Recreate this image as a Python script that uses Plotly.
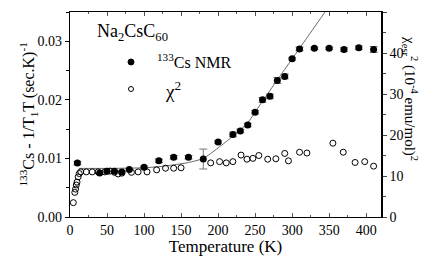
import plotly.graph_objects as go

# 133Cs NMR data (left axis)
nmr_T = [10, 40, 50, 60, 70, 80, 100, 120, 140, 160, 180, 200, 220, 230, 240,
         250, 260, 270, 280, 290, 300, 310, 330, 350, 370, 390, 410]
nmr_val = [0.0092, 0.0075, 0.0078, 0.0078, 0.0077, 0.0081, 0.0085, 0.0096, 0.0102,
           0.0102, 0.0099, 0.0128, 0.0141, 0.0147, 0.0157, 0.0179, 0.0200, 0.0206,
           0.0233, 0.0240, 0.0270, 0.0287, 0.0288, 0.0288, 0.0286, 0.0289, 0.0286]
nmr_err = [0.0003, 0, 0, 0, 0, 0.0002, 0.0002, 0.0003, 0.0003, 0.0003, 0.0017, 0.0002,
           0.0004, 0.0003, 0.0003, 0.0003, 0.0004, 0.0004, 0.0005, 0.0004, 0.0002,
           0.0003, 0.0002, 0.0002, 0.0003, 0.0003, 0.0005]

# fit curve
fit_T = [12, 50, 100, 120, 140, 160, 180, 200, 220, 240, 260, 280, 300, 320, 340, 360]
fit_val = [0.0083, 0.0083, 0.0084, 0.0086, 0.0089, 0.0093, 0.0100, 0.0118, 0.0138,
           0.0161, 0.0198, 0.0234, 0.0270, 0.0306, 0.0342, 0.0378]

# chi^2 data (right axis)
chi_T = [4.5, 6.5, 7.5, 8.5, 9.5, 11, 12.5, 14.5, 22, 30, 38, 47, 54, 60, 65, 70, 83,
         92, 104, 117, 129, 140, 150, 190, 202, 211, 220, 231, 239, 247, 255, 267,
         278, 290, 295, 310, 320, 355, 369, 385, 398, 410]
chi_val = [3.5, 6.0, 6.8, 7.8, 8.5, 9.8, 10.6, 11.0, 11.0, 11.0, 11.0, 11.0, 11.2, 10.9,
           10.5, 10.7, 10.9, 11.0, 11.0, 11.5, 11.9, 11.9, 12.0, 13.2, 13.5, 13.2, 13.5,
           15.1, 14.1, 14.3, 15.0, 14.1, 14.2, 15.5, 13.7, 15.8, 15.6, 18.0, 15.8, 13.3,
           13.5, 12.4]

x_ticks = [0, 50, 100, 150, 200, 250, 300, 350, 400]
y_ticks = [0.00, 0.01, 0.02, 0.03]
y_ticklabels = ["0.00", "0.01", "0.02", "0.03"]
y2_ticks = [0, 10, 20, 30, 40, 50]

FONT = "Liberation Serif"

# page body has an 8px margin; compensate so the plot area lands at 70..381 x 12..217
OFF = 8
W, H = 436 - OFF, 256 - OFF
L, R, T, B = 70 - OFF, 55, 12 - OFF, 39
PLEFT, PTOP = 70, 12
PW, PH = 311, 205


def px(x):
    return (x - PLEFT) / PW


def py(y):
    return (PTOP + PH - y) / PH


fig = go.Figure()
fig.add_trace(go.Scatter(x=fit_T, y=fit_val, mode="lines",
                         line=dict(color="#666666", width=1, shape="spline", smoothing=0.6),
                         showlegend=False))
fig.add_trace(go.Scatter(x=chi_T, y=chi_val, mode="markers", yaxis="y2",
                         marker=dict(symbol="circle-open", size=6, color="black",
                                     line=dict(width=1, color="black")),
                         showlegend=False))
fig.add_trace(go.Scatter(x=nmr_T, y=nmr_val, mode="markers",
                         marker=dict(symbol="circle", size=7, color="black"),
                         error_y=dict(type="data", array=nmr_err, color="#777777",
                                      thickness=1, width=4),
                         showlegend=False))

fig.update_layout(
    width=W, height=H,
    margin=dict(l=L, r=R, t=T, b=B, autoexpand=False),
    paper_bgcolor="white", plot_bgcolor="white",
    font=dict(family=FONT, size=14, color="black"),
    xaxis=dict(range=[0, 420], tickvals=x_ticks, ticks="inside", ticklen=4,
               tickcolor="#555", showline=True, linecolor="black", linewidth=1,
               mirror="ticks", showgrid=False, zeroline=False,
               minor=dict(dtick=25, tick0=0, ticks="inside", ticklen=2, tickcolor="#555"),
               title=dict(text="Temperature (K)", font=dict(size=17, family=FONT), standoff=2),
               tickfont=dict(size=14, family=FONT)),
    yaxis=dict(range=[0, 0.035], tickvals=y_ticks, ticktext=y_ticklabels,
               ticks="outside", ticklen=4, tickcolor="black",
               showline=True, linecolor="black", linewidth=1.2,
               showgrid=False, zeroline=False,
               minor=dict(dtick=0.005, tick0=0, ticks="outside", ticklen=3),
               tickfont=dict(size=14, family=FONT)),
    yaxis2=dict(range=[0, 50], tickvals=y2_ticks, overlaying="y", side="right",
                ticks="outside", ticklen=4, showline=True, linecolor="black",
                linewidth=1.5, showgrid=False, zeroline=False,
                minor=dict(dtick=5, tick0=0, ticks="outside", ticklen=3),
                tickfont=dict(size=14, family=FONT)),
)

ann = [
    dict(text="<sup>133</sup>Cs - 1/T<sub>1</sub>T (sec.K)<sup>-1</sup>",
         xref="paper", yref="paper", x=0, y=0.5, xshift=-55, textangle=-90,
         showarrow=False, font=dict(size=16, family=FONT)),
    dict(text="χ<sub>esr</sub><sup>2</sup> (10<sup>-4</sup> emu/mol)<sup>2</sup>",
         xref="paper", yref="paper", x=1, y=0.58, xshift=41, textangle=90,
         showarrow=False, font=dict(size=15, family=FONT)),
    dict(text="Na<sub>2</sub>CsC<sub>60</sub>", xref="paper", yref="paper",
         x=px(95), y=py(33), xanchor="left", yanchor="middle",
         showarrow=False, font=dict(size=18, family=FONT)),
    dict(text="<sup>133</sup>Cs NMR", xref="paper", yref="paper",
         x=px(155), y=py(61), xanchor="left", yanchor="middle",
         showarrow=False, font=dict(size=16, family=FONT)),
    dict(text="χ<sup>2</sup>", xref="paper", yref="paper",
         x=px(163), y=py(90), xanchor="left", yanchor="middle",
         showarrow=False, font=dict(size=19, family=FONT)),
]
fig.update_layout(annotations=ann)

# legend symbols
fig.add_shape(type="circle", xref="paper", yref="paper", xsizemode="pixel",
              ysizemode="pixel", xanchor=px(131), yanchor=py(62),
              x0=-3, x1=3, y0=-3, y1=3, fillcolor="black",
              line=dict(color="black", width=1))
fig.add_shape(type="circle", xref="paper", yref="paper", xsizemode="pixel",
              ysizemode="pixel", xanchor=px(131), yanchor=py(89),
              x0=-2.5, x1=2.5, y0=-2.5, y1=2.5, fillcolor="white",
              line=dict(color="black", width=1))

fig.write_html("out.html")
